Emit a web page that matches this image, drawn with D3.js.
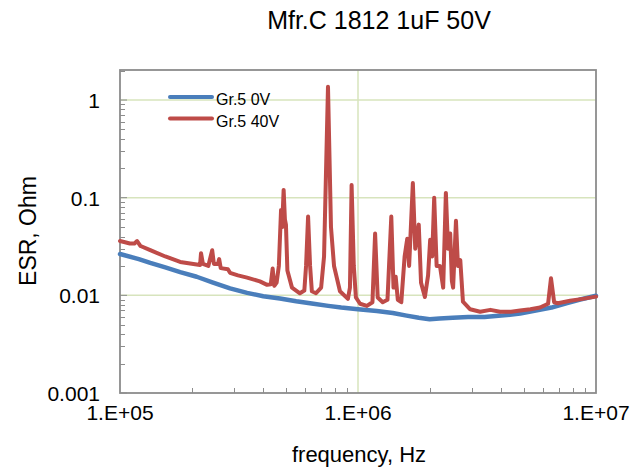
<!DOCTYPE html>
<html>
<head>
<meta charset="utf-8">
<script src="https://cdn.jsdelivr.net/npm/d3@7"></script>
<style>
  body { margin: 0; background: #fff; }
  text { font-family: "Liberation Sans", Arial, sans-serif; fill: #000; }
</style>
</head>
<body>
<script>
'use strict';
// series: frequency (Hz) and ESR (Ohm)
var blueFreq = [1.0e5, 1.2e5, 1.34e5, 1.55e5, 1.79e5, 2.1e5, 2.46e5, 2.9e5, 3.42e5, 4.0e5,
                4.7e5, 5.5e5, 6.5e5, 7.5e5, 8.5e5, 1.0e6, 1.2e6, 1.4e6, 1.6e6, 1.8e6,
                2.0e6, 2.2e6, 2.5e6, 2.9e6, 3.4e6, 4.0e6, 4.8e6, 5.8e6, 6.5e6, 7.5e6,
                8.5e6, 1.0e7];
var blueEsr  = [0.0265, 0.0235, 0.0215, 0.0193, 0.0173, 0.0155, 0.0135, 0.0118, 0.0106, 0.0098,
                0.0093, 0.0087, 0.0082, 0.0078, 0.0075, 0.0072, 0.0069, 0.0066, 0.0062, 0.0059,
                0.0057, 0.0058, 0.0059, 0.0060, 0.0060, 0.0062, 0.0065, 0.0071, 0.0075, 0.0083,
                0.0090, 0.0099];

var redFreq = [1.0e5, 1.05e5, 1.1e5, 1.15e5, 1.18e5, 1.22e5, 1.34e5, 1.55e5, 1.79e5, 2.17e5,
               2.19e5, 2.23e5, 2.35e5, 2.44e5, 2.48e5, 2.58e5, 2.61e5, 2.65e5, 2.84e5, 2.9e5,
               3.13e5, 3.42e5, 3.87e5, 4.15e5, 4.3e5, 4.38e5, 4.45e5, 4.55e5, 4.65e5, 4.75e5,
               4.8e5, 4.87e5, 4.93e5, 4.98e5, 5.05e5, 5.28e5, 5.7e5, 5.95e5, 6.05e5, 6.17e5,
               6.29e5, 6.4e5, 6.66e5, 7.0e5, 7.2e5, 7.48e5, 7.7e5, 7.93e5, 8.4e5, 9.07e5,
               9.25e5, 9.4e5, 9.6e5, 9.8e5, 1.02e6, 1.09e6, 1.15e6, 1.18e6, 1.21e6, 1.27e6,
               1.33e6, 1.38e6, 1.41e6, 1.44e6, 1.47e6, 1.52e6, 1.57e6, 1.61e6, 1.64e6, 1.7e6,
               1.74e6, 1.8e6, 1.84e6, 1.91e6, 1.97e6, 2.01e6, 2.05e6, 2.09e6, 2.14e6, 2.21e6,
               2.28e6, 2.34e6, 2.39e6, 2.44e6, 2.48e6, 2.51e6, 2.58e6, 2.63e6, 2.69e6, 2.76e6,
               2.96e6, 3.26e6, 3.6e6, 3.95e6, 4.4e6, 4.8e6, 5.3e6, 5.82e6, 6.29e6, 6.47e6,
               6.67e6, 6.92e6, 7.78e6, 8.8e6, 1.0e7];
var redEsr  = [0.036, 0.035, 0.034, 0.034, 0.036, 0.032, 0.029, 0.025, 0.022, 0.0205,
               0.027, 0.021, 0.020, 0.029, 0.021, 0.021, 0.0235, 0.019, 0.0185, 0.017,
               0.016, 0.0152, 0.0139, 0.0128, 0.013, 0.0188, 0.0125, 0.0135, 0.020, 0.075,
               0.050, 0.120, 0.060, 0.053, 0.018, 0.012, 0.0105, 0.0112, 0.020, 0.064,
               0.020, 0.011, 0.0105, 0.012, 0.025, 1.37, 0.050, 0.020, 0.011, 0.0092,
               0.012, 0.135, 0.020, 0.0095, 0.0082, 0.0078, 0.0085, 0.043, 0.0095, 0.0085,
               0.009, 0.064, 0.012, 0.0155, 0.009, 0.0085, 0.025, 0.038, 0.020, 0.141,
               0.030, 0.053, 0.0135, 0.0096, 0.016, 0.037, 0.025, 0.100, 0.020, 0.020,
               0.012, 0.112, 0.030, 0.043, 0.014, 0.012, 0.058, 0.020, 0.023, 0.0086,
               0.0072, 0.0068, 0.0071, 0.0068, 0.0068, 0.0070, 0.0072, 0.0075, 0.0082, 0.015,
               0.0085, 0.0083, 0.0088, 0.0092, 0.0097];

var seriesNames  = ['Gr.5 0V', 'Gr.5 40V'];
var seriesColors = ['#4A7EBB', '#BE4B48'];
var yTickValues  = [1, 0.1, 0.01, 0.001];
var yTickLabels  = ['1', '0.1', '0.01', '0.001'];
var xTickValues  = [1e5, 1e6, 1e7];
var xTickLabels  = ['1.E+05', '1.E+06', '1.E+07'];

var W = 642, H = 471;
var plotL = 120, plotR = 596, plotT = 70, plotB = 393;

var svg = d3.select('body').append('svg')
    .attr('width', W)
    .attr('height', H);

var x = d3.scaleLog().domain([1e5, 1e7]).range([plotL, plotR]);
var y = d3.scaleLog().domain([0.001, 2.03]).range([plotB, plotT]);

// gridlines
svg.append('g').selectAll('line')
    .data([1, 0.1, 0.01])
  .enter().append('line')
    .attr('x1', plotL).attr('x2', plotR)
    .attr('y1', function(d) { return y(d); })
    .attr('y2', function(d) { return y(d); })
    .attr('stroke', '#D7E4BD')
    .attr('stroke-width', 1.5);
svg.append('line')
    .attr('x1', x(1e6)).attr('x2', x(1e6))
    .attr('y1', plotT).attr('y2', plotB)
    .attr('stroke', '#D7E4BD')
    .attr('stroke-width', 1.5);

// minor ticks (inside)
var yMinor = [];
[0.001, 0.01, 0.1, 1].forEach(function(dec) {
  for (var k = 2; k <= 9; k++) if (dec * k <= 2.03) yMinor.push(dec * k);
});
svg.append('g').selectAll('line')
    .data(yMinor)
  .enter().append('line')
    .attr('x1', plotL).attr('x2', plotL + 5)
    .attr('y1', function(d) { return Math.round(y(d)) + 0.5; })
    .attr('y2', function(d) { return Math.round(y(d)) + 0.5; })
    .attr('stroke', '#8c8c8c');
svg.append('g').selectAll('line')
    .data(yTickValues)
  .enter().append('line')
    .attr('x1', plotL).attr('x2', plotL + 7)
    .attr('y1', function(d) { return y(d); })
    .attr('y2', function(d) { return y(d); })
    .attr('stroke', '#8c8c8c');

var xMinor = [];
[1e5, 1e6].forEach(function(dec) {
  for (var k = 2; k <= 9; k++) xMinor.push(dec * k);
});
svg.append('g').selectAll('line')
    .data(xMinor)
  .enter().append('line')
    .attr('x1', function(d) { return Math.round(x(d)) + 0.5; })
    .attr('x2', function(d) { return Math.round(x(d)) + 0.5; })
    .attr('y1', plotB).attr('y2', plotB - 5)
    .attr('stroke', '#8c8c8c');

// plot frame
svg.append('rect')
    .attr('x', plotL).attr('y', plotT)
    .attr('width', plotR - plotL).attr('height', plotB - plotT)
    .attr('fill', 'none')
    .attr('stroke', '#8c8c8c')
    .attr('stroke-width', 1.8);

// series
var line = d3.line()
    .x(function(d) { return x(d[0]); })
    .y(function(d) { return y(d[1]); });

var blueData = d3.zip(blueFreq, blueEsr);
var redData  = d3.zip(redFreq, redEsr);

[blueData, redData].forEach(function(data, i) {
  svg.append('path')
      .datum(data)
      .attr('d', line)
      .attr('fill', 'none')
      .attr('stroke', seriesColors[i])
      .attr('stroke-width', i === 0 ? 4.5 : 4)
      .attr('stroke-linejoin', 'round')
      .attr('stroke-linecap', 'round');
});

// legend
var legend = svg.append('g');
seriesNames.forEach(function(name, i) {
  var ly = 97 + i * 21.5;
  legend.append('line')
      .attr('x1', 170).attr('x2', 212)
      .attr('y1', ly).attr('y2', ly)
      .attr('stroke', seriesColors[i])
      .attr('stroke-width', 4)
      .attr('stroke-linecap', 'round');
  legend.append('text')
      .attr('x', 216).attr('y', ly + 8)
      .attr('font-size', 16)
      .text(name);
});

// tick labels
svg.append('g').selectAll('text')
    .data(yTickValues)
  .enter().append('text')
    .attr('x', 100)
    .attr('y', function(d) { return y(d) + 8; })
    .attr('text-anchor', 'end')
    .attr('font-size', 21)
    .text(function(d, i) { return yTickLabels[i]; });

svg.append('g').selectAll('text')
    .data(xTickValues)
  .enter().append('text')
    .attr('x', function(d) { return x(d); })
    .attr('y', 420)
    .attr('text-anchor', 'middle')
    .attr('font-size', 21)
    .text(function(d, i) { return xTickLabels[i]; });

// titles
svg.append('text')
    .attr('x', 379).attr('y', 29)
    .attr('text-anchor', 'middle')
    .attr('font-size', 25)
    .text('Mfr.C 1812 1uF 50V');

svg.append('text')
    .attr('x', 359).attr('y', 462)
    .attr('text-anchor', 'middle')
    .attr('font-size', 22)
    .text('frequency, Hz');

svg.append('text')
    .attr('transform', 'translate(36,231) rotate(-90)')
    .attr('text-anchor', 'middle')
    .attr('font-size', 23)
    .text('ESR, Ohm');
</script>
</body>
</html>
